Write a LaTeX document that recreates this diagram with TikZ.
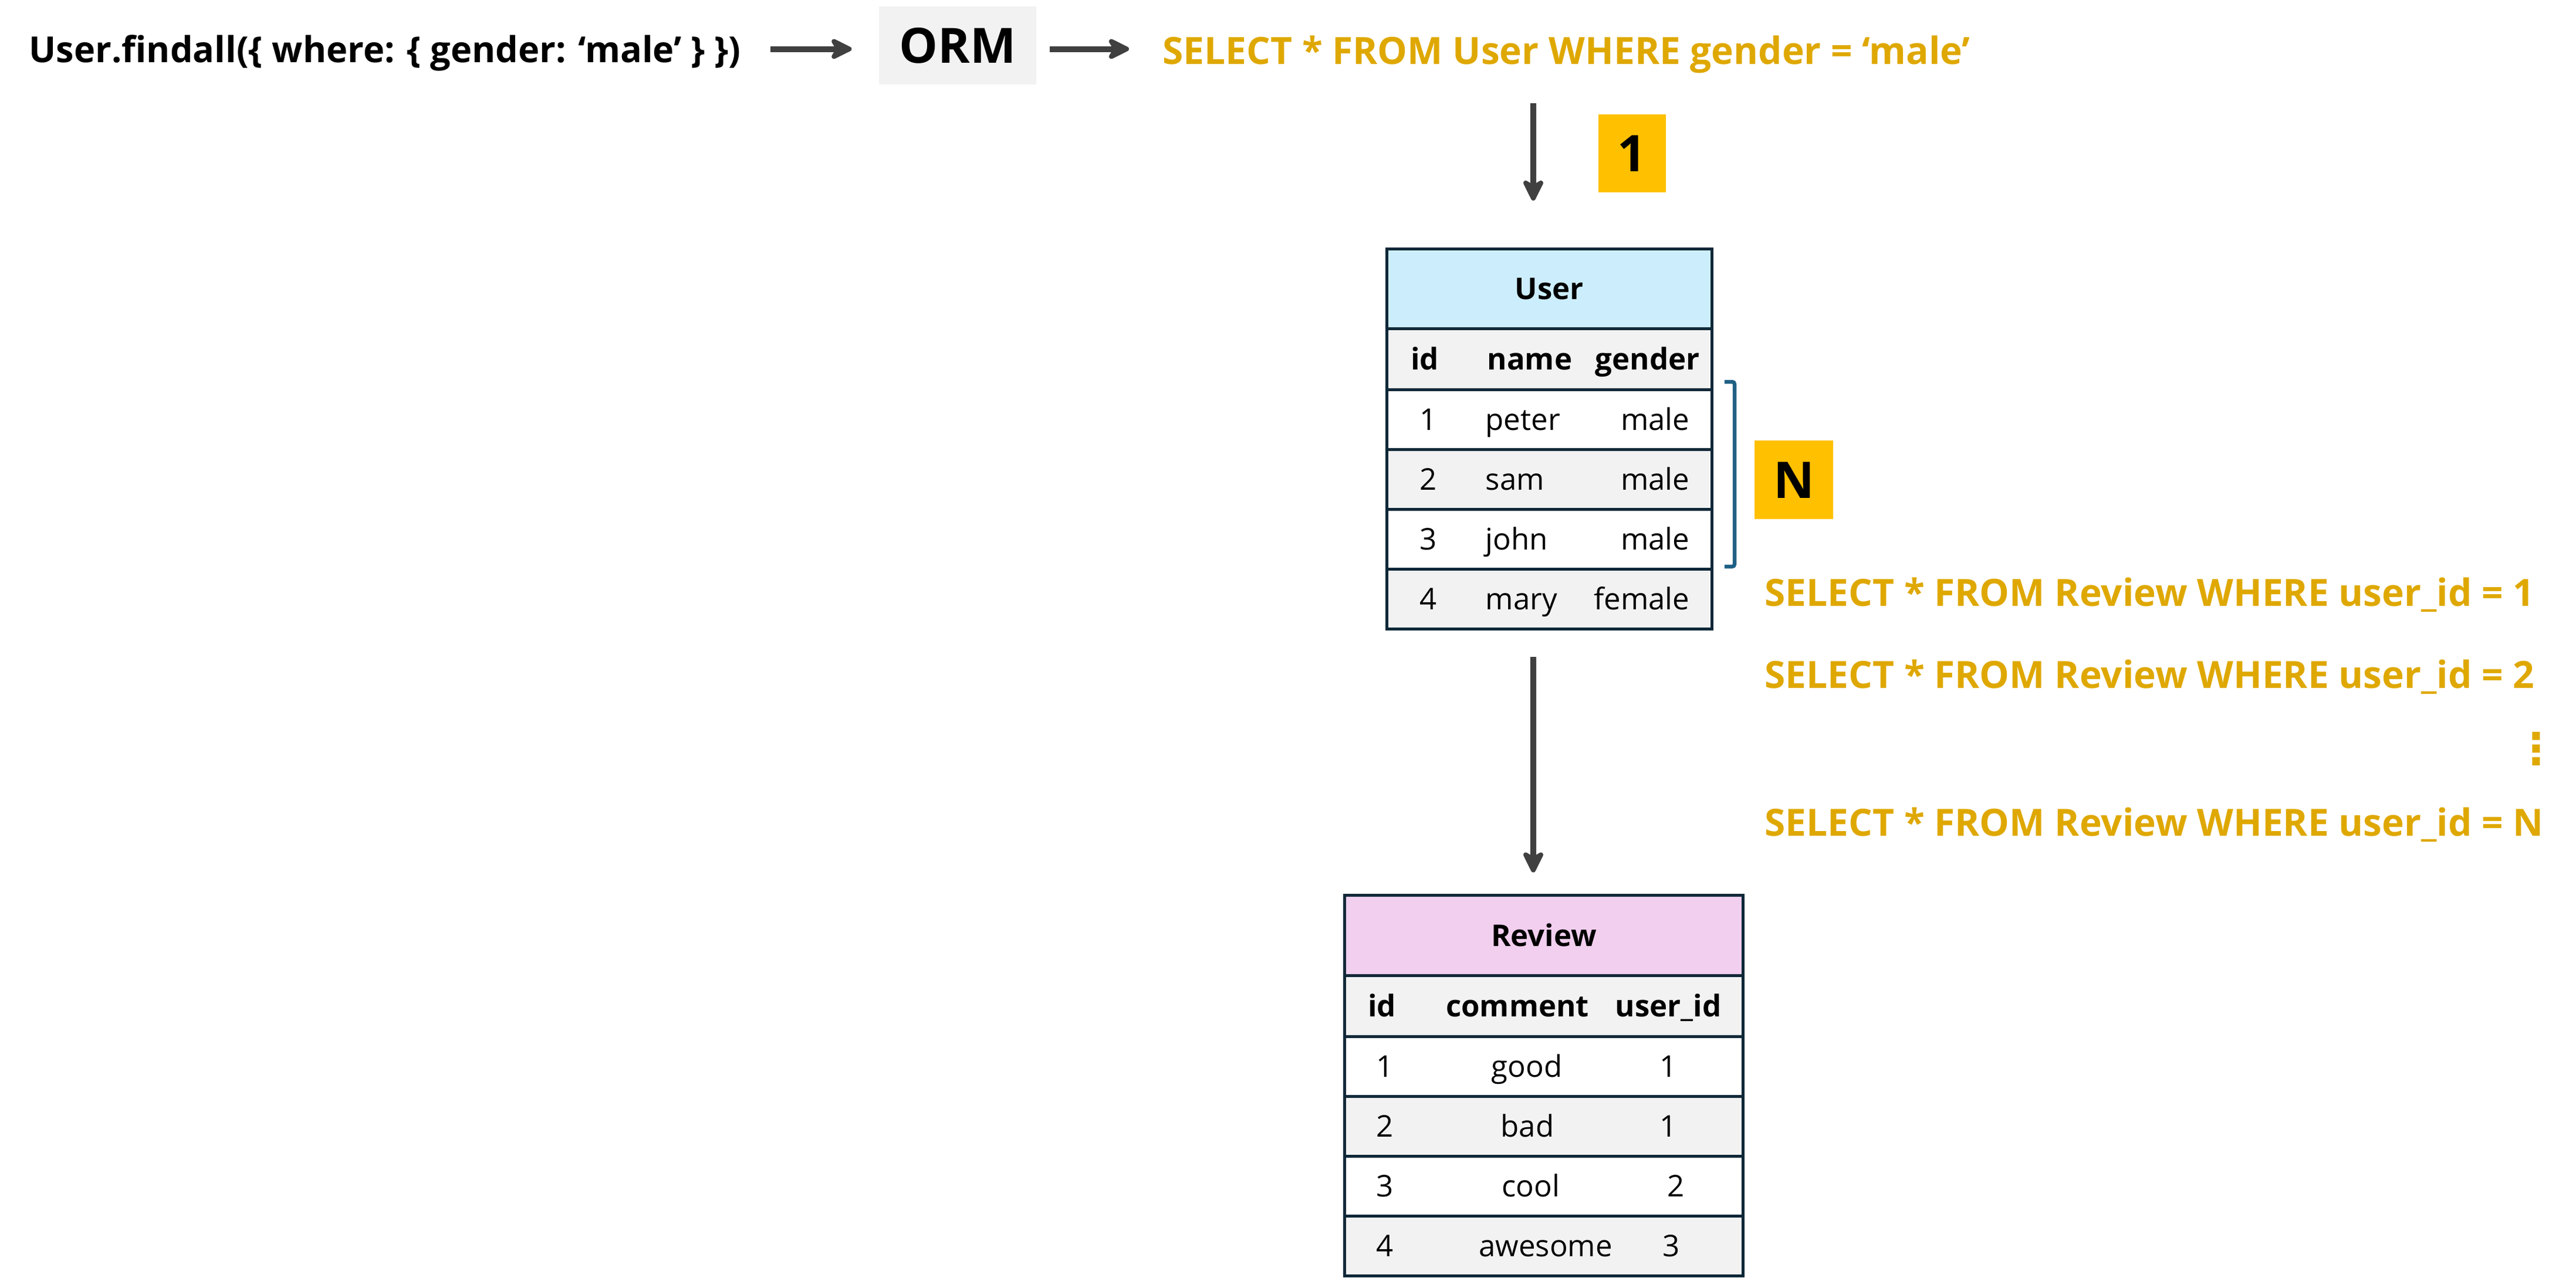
\documentclass[tikz,border=0pt]{standalone}
\usepackage{fontspec}
\setmainfont{Open Sans}
\newfontfamily\symfont{DejaVu Sans}
\usetikzlibrary{positioning,arrows.meta}
\definecolor{gold}{HTML}{DFA800}
\definecolor{arrowgray}{HTML}{404040}
\definecolor{tabline}{HTML}{0E2838}
\definecolor{usertitle}{HTML}{CCEEFC}
\definecolor{reviewtitle}{HTML}{F2CEEF}
\definecolor{rowgray}{HTML}{F2F2F2}
\definecolor{badge}{HTML}{FFC000}
\definecolor{bracket}{HTML}{1F6084}
\tikzset{
	code/.style={font=\fontsize{18.2}{22}\selectfont\bfseries, inner sep=0pt, text height=0.46cm, text depth=0pt},
	query/.style={code, text=gold},
	arr/.style={draw=arrowgray, line width=0.1cm, -{Stealth[length=0.45cm,width=0.44cm,inset=0.13cm,round]}},
	tabrow/.style={draw=tabline, line width=0.05cm, minimum height=1.02cm, inner sep=0pt, outer sep=0pt},
	cell/.style={font=\fontsize{14.5}{17}\selectfont, inner sep=0pt, text height=0.36cm, text depth=0pt},
	headcell/.style={cell, font=\fontsize{14.5}{17}\selectfont\bfseries},
	badgebox/.style={fill=badge, minimum width=1.15cm, minimum height=1.33cm, inner sep=0pt, font=\fontsize{24.5}{28}\selectfont\bfseries, text height=0.62cm, text depth=0pt},
}
\begin{document}
\begin{tikzpicture}
	\path[use as bounding box, fill=white] (0,0) rectangle (43.9,-21.9);
	% top line: call -> ORM -> query
	\node[code, font=\fontsize{17.4}{21}\selectfont\bfseries, anchor=west] (call) at (0.49,-0.835) {User.findall(\{ where: \{ gender: ‘male’ \} \})};
	\node[fill=rowgray, minimum width=2.68cm, minimum height=1.33cm, inner sep=0pt, font=\fontsize{23.6}{28}\selectfont\bfseries, text height=0.59cm, text depth=0pt] (orm) at (16.32,-0.775) {ORM};
	\node[query, anchor=west] (q0) at (19.81,-0.865) {SELECT * FROM User WHERE gender = ‘male’};
	\draw[arr, shorten <=0.5cm, shorten >=0.46cm] (call.east) -- (orm.west |- call.east);
	\draw[arr, shorten <=0.22cm, shorten >=0.57cm] (orm.east |- call.east) -- (q0.west |- call.east);
	\coordinate (d1) at (26.13,0);
	\node[badgebox] (one) at (27.815,-2.615) {1};
	% User table
	\node[tabrow, headcell, fill=usertitle, minimum width=5.54cm, minimum height=1.36cm] (utitle) at (26.405,-4.92) {User};
	\node[tabrow, fill=rowgray, minimum width=5.54cm, minimum height=1.04cm, below=0pt of utitle] (u0) {};
	\node[headcell] (uidh) at (u0 -| 24.28,0) {id};
	\node[headcell, anchor=west] (unameh) at (u0 -| 25.34,0) {name};
	\node[headcell, anchor=west] (ugenderh) at (u0 -| 27.18,0) {gender};
	\foreach \i/\nm/\gd/\fl in {1/peter/male/white,2/sam/male/rowgray,3/john/male/white,4/mary/female/rowgray}{
		\pgfmathtruncatemacro\prev{\i-1}
		\node[tabrow, fill=\fl, minimum width=5.54cm, below=0pt of u\prev] (u\i) {};
		\node[cell] (uid\i) at (u\i -| 24.34,0) {\i};
		\node[cell, anchor=west] (uname\i) at (u\i -| 25.31,0) {\nm};
		\node[cell, anchor=east] (ugender\i) at (u\i -| 28.80,0) {\gd};
	}
	\draw[arr, shorten <=0.66cm, shorten >=0.82cm] (q0.south -| d1) -- (d1 |- utitle.north);
	% N queries
	\draw[bracket, line width=0.065cm, rounded corners=0.04cm] (29.39,-6.51) -- (29.56,-6.51) -- (29.56,-9.66) -- (29.39,-9.66);
	\node[badgebox, minimum width=1.34cm, minimum height=1.34cm] (nbox) at (30.57,-8.18) {N};
	\node[query, anchor=west] (q1) at (30.07,-10.10) {SELECT * FROM Review WHERE user\_id = 1};
	\node[query, anchor=west] (q2) at (30.07,-11.505) {SELECT * FROM Review WHERE user\_id = 2};
	\node[text=gold, inner sep=0pt, font=\symfont\bfseries\fontsize{21}{24}\selectfont] (dots) at (43.22,-12.77) {⋮};
	\node[query, anchor=west] (qn) at (30.07,-14.025) {SELECT * FROM Review WHERE user\_id = N};
	% Review table
	\node[tabrow, headcell, fill=reviewtitle, minimum width=6.79cm, minimum height=1.37cm] (rtitle) at (26.31,-15.95) {Review};
	\node[tabrow, fill=rowgray, minimum width=6.79cm, minimum height=1.04cm, below=0pt of rtitle] (r0) {};
	\node[headcell] (ridh) at (r0 -| 23.55,0) {id};
	\node[headcell] (rcommenth) at (r0 -| 25.86,0) {comment};
	\node[headcell] (ruserh) at (r0 -| 28.43,0) {user\_id};
	\foreach \i/\cmt/\cmx/\uid/\uidx/\fl in {1/good/26.02/1/28.43/white,2/bad/26.03/1/28.43/rowgray,3/cool/26.09/2/28.56/white,4/awesome/26.34/3/28.48/rowgray}{
		\pgfmathtruncatemacro\prev{\i-1}
		\node[tabrow, fill=\fl, minimum width=6.79cm, below=0pt of r\prev] (r\i) {};
		\node[cell] (rid\i) at (r\i -| 23.60,0) {\i};
		\node[cell] (rcomment\i) at (r\i -| \cmx,0) {\cmt};
		\node[cell] (ruser\i) at (r\i -| \uidx,0) {\uid};
	}
	\draw[arr, shorten <=0.48cm, shorten >=0.39cm] (d1 |- u4.south) -- (d1 |- rtitle.north);
\end{tikzpicture}
\end{document}
